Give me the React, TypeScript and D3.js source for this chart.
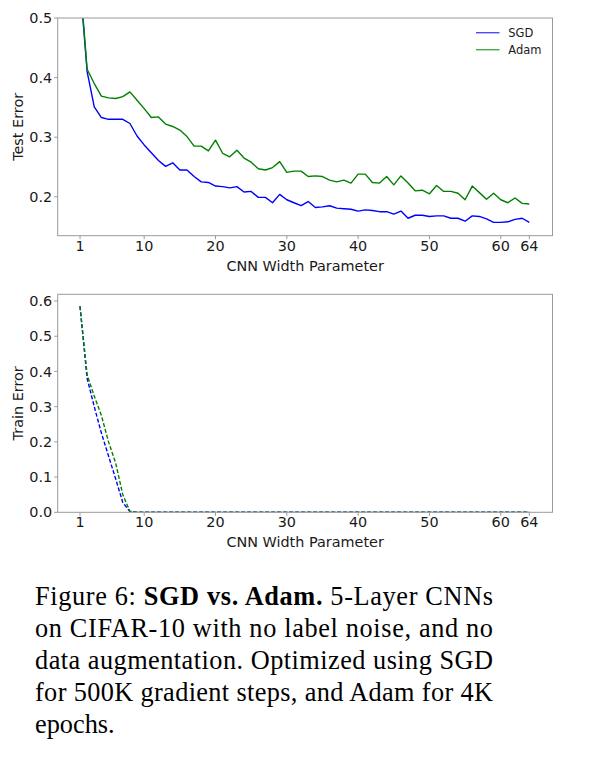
import React from "react";
import * as d3 from "d3";

const widths: number[] = Array.from({ length: 64 }, (_, i) => i + 1);
const xTicks: number[] = [1, 10, 20, 30, 40, 50, 60, 64];
const testTicks: number[] = [0.2, 0.3, 0.4, 0.5];
const trainTicks: number[] = [0.0, 0.1, 0.2, 0.3, 0.4, 0.5, 0.6];

const sgdTest: number[] = [
  0.56, 0.41, 0.351, 0.333, 0.33, 0.33, 0.33, 0.323, 0.302, 0.287,
  0.274, 0.261, 0.251, 0.257, 0.245, 0.245, 0.234, 0.225, 0.224, 0.218,
  0.217, 0.215, 0.217, 0.208, 0.209, 0.199, 0.199, 0.19, 0.204, 0.195,
  0.19, 0.185, 0.192, 0.182, 0.183, 0.185, 0.181, 0.18, 0.179, 0.176,
  0.178, 0.177, 0.175, 0.175, 0.171, 0.176, 0.164, 0.169, 0.169, 0.167,
  0.168, 0.168, 0.164, 0.164, 0.159, 0.168, 0.167, 0.163, 0.157, 0.157,
  0.158, 0.162, 0.164, 0.157,
];
const adamTest: number[] = [
  0.565, 0.414, 0.39, 0.369, 0.366, 0.365, 0.368, 0.376, 0.362, 0.348,
  0.333, 0.334, 0.322, 0.318, 0.312, 0.301, 0.285, 0.285, 0.277, 0.295,
  0.273, 0.267, 0.278, 0.265, 0.258, 0.247, 0.245, 0.249, 0.259, 0.241,
  0.243, 0.243, 0.234, 0.235, 0.234, 0.228, 0.225, 0.228, 0.223, 0.238,
  0.238, 0.224, 0.223, 0.234, 0.22, 0.235, 0.223, 0.21, 0.211, 0.205,
  0.219, 0.209, 0.209, 0.206, 0.195, 0.218, 0.207, 0.196, 0.206, 0.195,
  0.19, 0.198, 0.189, 0.188,
];
const sgdTrain: number[] = [
  0.585, 0.38, 0.3, 0.225, 0.16, 0.095, 0.028, 0.002,
  0, 0, 0, 0, 0, 0, 0, 0, 0, 0, 0, 0, 0, 0, 0, 0, 0, 0, 0, 0, 0, 0, 0, 0,
  0, 0, 0, 0, 0, 0, 0, 0, 0, 0, 0, 0, 0, 0, 0, 0, 0, 0, 0, 0, 0, 0, 0, 0,
  0, 0, 0, 0, 0, 0, 0, 0,
];
const adamTrain: number[] = [
  0.585, 0.39, 0.33, 0.275, 0.2, 0.14, 0.05, 0.003,
  0, 0, 0, 0, 0, 0, 0, 0, 0, 0, 0, 0, 0, 0, 0, 0, 0, 0, 0, 0, 0, 0, 0, 0,
  0, 0, 0, 0, 0, 0, 0, 0, 0, 0, 0, 0, 0, 0, 0, 0, 0, 0, 0, 0, 0, 0, 0, 0,
  0, 0, 0, 0, 0, 0, 0, 0,
];
const seriesNames: string[] = ["SGD", "Adam"];
const seriesColors: string[] = ["#0000ff", "#008000"];

const FONT = "'DejaVu Sans', sans-serif";
const SERIF = "'Liberation Serif', 'Times New Roman', Times, serif";
const SPINE = "#9a9a9a";
const TXT = "#1a1a1a";

const L = 57.7;
const R = 552.5;

type PanelProps = {
  top: number;
  bottom: number;
  domain: [number, number];
  ticks: number[];
  series: number[][];
  dashed: boolean;
  yLabel: string;
  legend: boolean;
  id: string;
};

function Panel({ top, bottom, domain, ticks, series, dashed, yLabel, legend, id }: PanelProps) {
  const x = d3.scaleLinear().domain([1, 64]).range([80, 529.3]);
  const y = d3.scaleLinear().domain(domain).range([bottom, top]);
  const line = d3
    .line<number>()
    .x((_, i) => x(widths[i]))
    .y((v) => y(v));
  return (
    <g>
      <defs>
        <clipPath id={id}>
          <rect x={L} y={top} width={R - L} height={bottom - top} />
        </clipPath>
      </defs>
      <g clipPath={`url(#${id})`}>
        {series.map((s, i) => (
          <path
            key={i}
            d={line(s) || ""}
            fill="none"
            stroke={seriesColors[i]}
            strokeWidth={1.4}
            strokeDasharray={dashed ? "4,2" : undefined}
            strokeLinejoin="round"
          />
        ))}
      </g>
      <rect x={L} y={top} width={R - L} height={bottom - top} fill="none" stroke={SPINE} strokeWidth={1} />
      {xTicks.map((t) => (
        <g key={t}>
          <line x1={x(t)} x2={x(t)} y1={bottom} y2={bottom + 3.5} stroke={SPINE} />
          <text x={x(t)} y={bottom + 15} textAnchor="middle" style={{ fontFamily: FONT }} fontSize={14.4} fill={TXT}>
            {t}
          </text>
        </g>
      ))}
      {ticks.map((t) => (
        <g key={t}>
          <line x1={L - 3.5} x2={L} y1={y(t)} y2={y(t)} stroke={SPINE} />
          <text x={L - 5.5} y={y(t)} dy="0.36em" textAnchor="end" style={{ fontFamily: FONT }} fontSize={14.4} fill={TXT}>
            {t.toFixed(1)}
          </text>
        </g>
      ))}
      <text x={(L + R) / 2} y={bottom + 35} textAnchor="middle" style={{ fontFamily: FONT }} fontSize={14.4} fill={TXT}>
        CNN Width Parameter
      </text>
      <text
        transform={`translate(23,${(top + bottom) / 2}) rotate(-90)`}
        textAnchor="middle"
        style={{ fontFamily: FONT }}
        fontSize={14.4}
        fill={TXT}
      >
        {yLabel}
      </text>
      {legend &&
        seriesNames.map((n, i) => (
          <g key={n}>
            <line
              x1={476}
              x2={499.5}
              y1={top + 14.7 + i * 17}
              y2={top + 14.7 + i * 17}
              stroke={seriesColors[i]}
              strokeOpacity={0.7}
              strokeWidth={1.4}
            />
            <text x={508.3} y={top + 14.7 + i * 17} dy="0.36em" style={{ fontFamily: FONT }} fontSize={11.5} fill={TXT}>
              {n}
            </text>
          </g>
        ))}
    </g>
  );
}

const captionLines: { parts: { t: string; b?: boolean }[]; justify: boolean }[] = [
  { parts: [{ t: "Figure 6: " }, { t: "SGD vs. Adam.", b: true }, { t: " 5-Layer CNNs" }], justify: true },
  { parts: [{ t: "on CIFAR-10 with no label noise, and no" }], justify: true },
  { parts: [{ t: "data augmentation. Optimized using SGD" }], justify: true },
  { parts: [{ t: "for 500K gradient steps, and Adam for 4K" }], justify: true },
  { parts: [{ t: "epochs." }], justify: false },
];

export default function App() {
  return (
    <svg
      width={597}
      height={765}
      style={{ position: "absolute", left: 0, top: 0, background: "#fff" }}
    >
      <rect width={597} height={765} fill="#fff" />
      <Panel
        id="c1"
        top={18}
        bottom={235.7}
        domain={[0.1347, 0.5]}
        ticks={testTicks}
        series={[sgdTest, adamTest]}
        dashed={false}
        yLabel="Test Error"
        legend={true}
      />
      <Panel
        id="c2"
        top={294.3}
        bottom={512.3}
        domain={[0, 0.619]}
        ticks={trainTicks}
        series={[sgdTrain, adamTrain]}
        dashed={true}
        yLabel="Train Error"
        legend={false}
      />
      {captionLines.map((ln, i) => (
        <text
          key={i}
          x={35}
          y={605 + i * 32.1}
          style={{ fontFamily: SERIF }}
          fontSize={26.3}
          fill="#000"
          textLength={ln.justify ? 458 : undefined}
          lengthAdjust="spacing"
        >
          {ln.parts.map((p, j) => (
            <tspan key={j} fontWeight={p.b ? "bold" : "normal"}>
              {p.t}
            </tspan>
          ))}
        </text>
      ))}
    </svg>
  );
}
